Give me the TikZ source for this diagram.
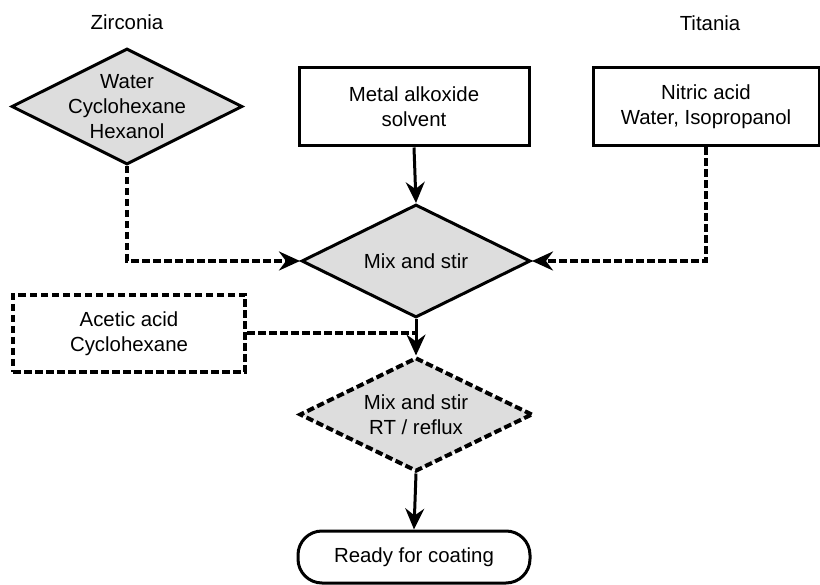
\documentclass[tikz,border=0pt]{standalone}
\usepackage{fontspec}
\setmainfont{Liberation Sans}
\usetikzlibrary{shapes.geometric,arrows.meta}
\definecolor{boxgray}{HTML}{DDDDDD}
\tikzset{
  x=1pt,y=-1pt,
  txt/.style={font=\fontsize{20.4}{25}\selectfont,align=center,inner sep=0pt},
  solidline/.style={line width=3pt},
  dashline/.style={line width=4pt,dash pattern=on 7.5pt off 3.5pt},
  dia/.style={shape=diamond,draw,fill=boxgray,inner sep=0pt,line join=miter},
  bx/.style={shape=rectangle,draw,fill=white,inner sep=0pt,minimum width=230pt,minimum height=78pt,txt},
  tip/.style={-{Stealth[length=21pt,width=19pt,inset=7pt]}},
}
\begin{document}
\begin{tikzpicture}
\useasboundingbox (0,0) rectangle (820,585);
% labels
\node[txt] (zirlab) at (127,22) {Zirconia};
\node[txt] (titlab) at (710,23) {Titania};
% input nodes
\node[dia,solidline,minimum width=231pt,minimum height=116pt,
      label={[txt]center:Water\\Cyclohexane\\Hexanol}] (zr) at (127,106.5) {};
\node[bx,solidline] (metal) at (414,107) {Metal alkoxide\\solvent};
\node[bx,solidline,minimum width=226pt] (ni) at (706,107) {Nitric acid\\Water, Isopropanol};
% mix
\node[dia,solidline,minimum width=229pt,minimum height=113pt,
      label={[txt]center:Mix and stir}] (mix) at (416,261) {};
\node[bx,dashline,minimum width=232pt,minimum height=77pt] (ac) at (129,333.5) {Acetic acid\\Cyclohexane};
\node[dia,dashline,minimum width=233pt,minimum height=114pt,
      label={[txt]center:Mix and stir\\RT / reflux}] (mix2) at (416,414.5) {};
\node[shape=rectangle,draw,solidline,rounded corners=24pt,minimum width=232pt,minimum height=52pt,txt] (ready) at (414,557) {Ready for coating};
% connectors
\coordinate (j) at (mix.south |- ac.east);
\draw[solidline,tip] (metal.south) -- (mix.north);
\draw[dashline,tip] (zr.south) |- (mix.west);
\draw[dashline,tip] (ni.south) |- (mix.east);
\draw[solidline,tip] (mix.south) -- (mix2.north);
\draw[dashline] (ac.east) -- (j);
\draw[solidline,tip] (mix2.south) -- (ready.north);
\end{tikzpicture}
\end{document}
